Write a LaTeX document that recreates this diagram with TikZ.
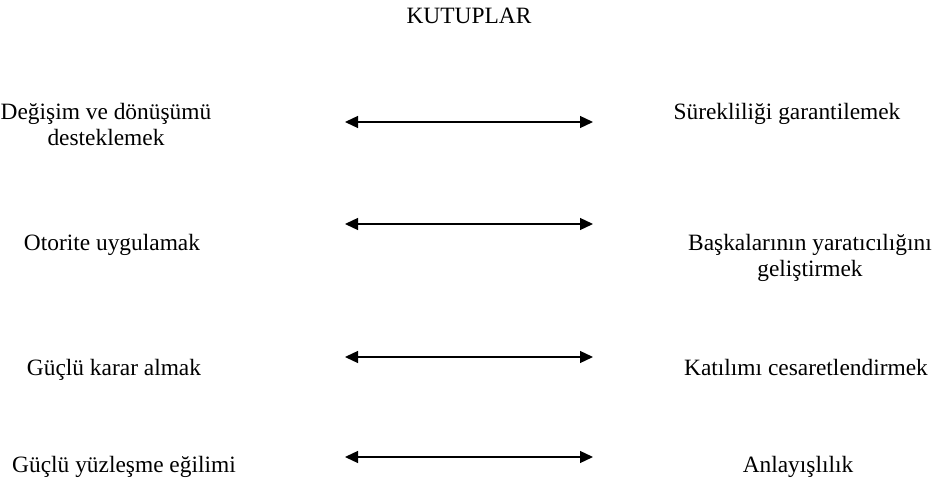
\documentclass[tikz,border=0pt]{standalone}
\usepackage{fontspec}
\setmainfont{Liberation Serif}
\usetikzlibrary{arrows.meta}

\begin{document}
\begin{tikzpicture}[x=0.5pt,y=-0.5pt,
  pole/.style={anchor=base,align=center,inner sep=0pt,
    font=\fontsize{11.7}{13}\selectfont},
  polearrow/.style={{Triangle[length=6.5pt,width=6pt]}-{Triangle[length=6.5pt,width=6pt]},
    line width=0.65pt}]
\useasboundingbox (0,0) rectangle (939,481);

\node[pole] (title) at (469,24) {KUTUPLAR};

% left poles (two-line nodes sit on their last line)
\node[pole] (L1) at (106,146) {Değişim ve dönüşümü\\desteklemek};
\node[pole] (L2) at (112,251) {Otorite uygulamak};
\node[pole] (L3) at (114,376) {Güçlü karar almak};
\node[pole] (L4) at (124,473) {Güçlü yüzleşme eğilimi};

% right poles
\node[pole] (R1) at (787,120) {Sürekliliği garantilemek};
\node[pole] (R2) at (810,277) {Başkalarının yaratıcılığını\\geliştirmek};
\node[pole] (R3) at (806,376) {Katılımı cesaretlendirmek};
\node[pole] (R4) at (798,473) {Anlayışlılık};

% arrow ends
\coordinate (a1) at (345,122);  \coordinate (b1) at (593,122);
\coordinate (a2) at (345,224);  \coordinate (b2) at (593,224);
\coordinate (a3) at (345,357);  \coordinate (b3) at (593,357);
\coordinate (a4) at (345,457);  \coordinate (b4) at (593,457);

\draw[polearrow] (a1) -- (b1);
\draw[polearrow] (a2) -- (b2);
\draw[polearrow] (a3) -- (b3);
\draw[polearrow] (a4) -- (b4);
\end{tikzpicture}
\end{document}
